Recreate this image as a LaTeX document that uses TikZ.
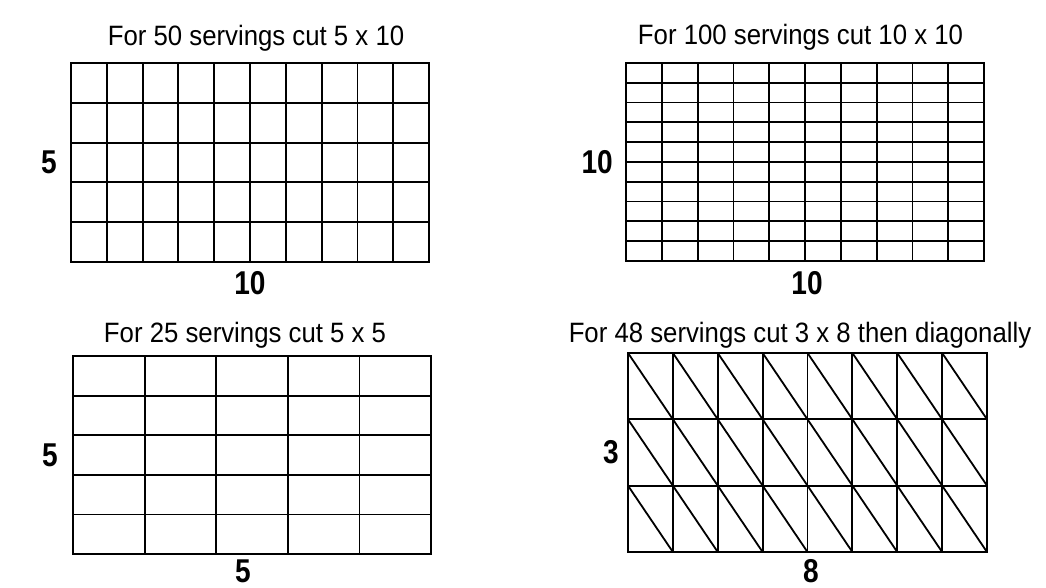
\documentclass[tikz,border=0pt]{standalone}
\usepackage{fontspec}
\setmainfont{Liberation Sans}
\newfontfamily\numfont{Liberation Sans}[FakeStretch=0.85]
\newfontfamily\capfont{Liberation Sans}[FakeStretch=0.92]
\usetikzlibrary{positioning,calc}

\begin{document}
\begin{tikzpicture}[
    x=1pt, y=-1pt,
    cake/.style={draw, line width=2pt, inner sep=0pt, outer sep=0pt, minimum width=358pt, minimum height=198pt},
    cut/.style={line width=1.8pt},
    caption/.style={inner sep=0pt, font=\capfont\fontsize{28}{32}\selectfont},
    count/.style={inner sep=0pt, font=\numfont\bfseries\fontsize{33}{38}\selectfont}
]
\useasboundingbox (0,0) rectangle (1046,588);

% the four cakes
\node[cake] (cakeA) at (250,162.5) {};
\node[cake] (cakeB) at (805,162) {};
\node[cake] (cakeC) at (252,455) {};
\node[cake, minimum width=359pt, minimum height=199pt] (cakeD) at (807.5,452.5) {};

% cuts
\foreach \i in {1,...,9}
  \draw[cut] ($(cakeA.north west)!\i/10!(cakeA.north east)$) -- ($(cakeA.south west)!\i/10!(cakeA.south east)$);
\foreach \j in {1,...,4}
  \draw[cut] ($(cakeA.north west)!\j/5!(cakeA.south west)$) -- ($(cakeA.north east)!\j/5!(cakeA.south east)$);

\foreach \i in {1,...,9} {
  \draw[cut] ($(cakeB.north west)!\i/10!(cakeB.north east)$) -- ($(cakeB.south west)!\i/10!(cakeB.south east)$);
  \draw[cut] ($(cakeB.north west)!\i/10!(cakeB.south west)$) -- ($(cakeB.north east)!\i/10!(cakeB.south east)$);
}

\foreach \i in {1,...,4} {
  \draw[cut] ($(cakeC.north west)!\i/5!(cakeC.north east)$) -- ($(cakeC.south west)!\i/5!(cakeC.south east)$);
  \draw[cut] ($(cakeC.north west)!\i/5!(cakeC.south west)$) -- ($(cakeC.north east)!\i/5!(cakeC.south east)$);
}

\foreach \i in {1,...,7}
  \draw[cut] ($(cakeD.north west)!\i/8!(cakeD.north east)$) -- ($(cakeD.south west)!\i/8!(cakeD.south east)$);
\foreach \j in {1,2}
  \draw[cut] ($(cakeD.north west)!\j/3!(cakeD.south west)$) -- ($(cakeD.north east)!\j/3!(cakeD.south east)$);
\foreach \c in {0,...,7}
  \foreach \r in {0,1,2}
    \draw[cut] ($(cakeD.north west)+(\c*44.875,\r*66.333)$) -- ++(44.875,66.333);

% captions
\node[caption, above=12pt of cakeA, xshift=6pt] (capA) {For 50 servings cut 5 x 10};
\node[caption, above=12pt of cakeB, xshift=-4.5pt] (capB) {For 100 servings cut 10 x 10};
\node[caption, above=7pt of cakeC, xshift=-7pt] (capC) {For 25 servings cut 5 x 5};
\node[caption, above=4.5pt of cakeD, xshift=-7.5pt] (capD) {For 48 servings cut 3 x 8 then diagonally};

% counts
\node[count, below=10pt of cakeA] (colsA) {10};
\node[count, left=14pt of cakeA] (rowsA) {5};
\node[count, below=10pt of cakeB, xshift=2pt] (colsB) {10};
\node[count, left=13pt of cakeB] (rowsB) {10};
\node[count, below=6pt of cakeC, xshift=-9pt] (colsC) {5};
\node[count, left=15pt of cakeC] (rowsC) {5};
\node[count, below=7pt of cakeD, xshift=3.5pt] (colsD) {8};
\node[count, left=9pt of cakeD] (rowsD) {3};
\end{tikzpicture}
\end{document}
